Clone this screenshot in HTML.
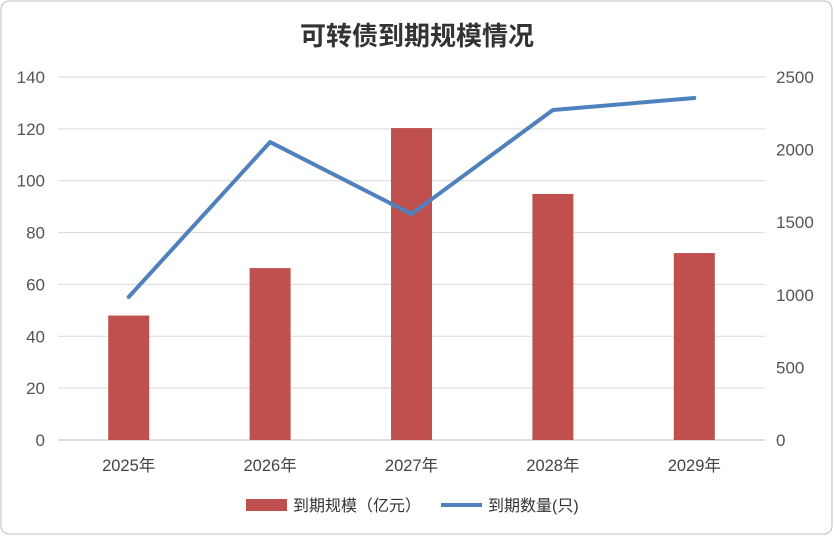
<!DOCTYPE html>
<html><head><meta charset="utf-8"><style>
body{margin:0;background:#fff;}
svg text{font-family:"Liberation Sans","Noto Sans CJK SC",sans-serif;}
</style></head><body>
<svg id="chart" width="834" height="536" xmlns="http://www.w3.org/2000/svg">
<rect x="1" y="1" width="831" height="533" rx="8" fill="#fff" stroke="#bdbdbd"/>
<text x="417" y="45" text-anchor="middle" font-size="26" font-weight="bold" fill="#333">可转债到期规模情况</text>
<g id="grid"></g><g id="bars"></g><g id="line"></g><g id="labels"></g>
<g>
<rect x="246" y="499" width="41" height="12" fill="#c0504d"/>
<text x="293" y="511" font-size="16" fill="#333">到期规模（亿元）</text>
<line x1="441" y1="505" x2="482" y2="505" stroke="#4f81bd" stroke-width="4"/>
<text x="488" y="511" font-size="16" fill="#333">到期数量(只)</text>
</g>
</svg>
<script>
const categories=["2025年","2026年","2027年","2028年","2029年"];
const scaleValues=[48,66.3,120.3,94.9,72.1];
const countValues=[985,2052,1556,2273,2355];
const leftTicks=[0,20,40,60,80,100,120,140];
const rightTicks=[0,500,1000,1500,2000,2500];
const NS="http://www.w3.org/2000/svg";
const x0=58,x1=765,y0=440,yTop=77;
const yL=v=>y0-(v/140)*(y0-yTop);
const yR=v=>y0-(v/2500)*(y0-yTop);
const band=(x1-x0)/categories.length;
const xC=i=>x0+band*(i+0.5);
function mk(t,a,p){const e=document.createElementNS(NS,t);for(const k in a)e.setAttribute(k,a[k]);p.appendChild(e);return e;}
const grid=document.getElementById('grid'),bars=document.getElementById('bars'),line=document.getElementById('line'),labels=document.getElementById('labels');
leftTicks.forEach(v=>{
 const l=mk('line',{x1:x0,x2:x1,y1:yL(v),y2:yL(v),stroke:v===0?'#bfbfbf':'#d9d9d9','stroke-width':1},grid);
 
 
 const t=mk('text',{x:45,y:yL(v)+6,'text-anchor':'end','font-size':17,fill:'#555'},labels);
 t.textContent=v;
 
 
});
rightTicks.forEach(v=>{
 const t=mk('text',{x:776,y:yR(v)+6,'font-size':17,fill:'#555'},labels);
 t.textContent=v;
 
 
});
categories.forEach((c,i)=>{
 const r=mk('rect',{x:xC(i)-20.5,y:yL(scaleValues[i]),width:41,height:y0-yL(scaleValues[i]),fill:'#c0504d'},bars);
 
 
 const t=mk('text',{x:xC(i),y:471,'text-anchor':'middle','font-size':16.5,fill:'#444'},labels);
 t.textContent=c;
 
 
});
const pts=countValues.map((v,i)=>xC(i)+','+yR(v)).join(' ');
const pl=mk('polyline',{points:pts,fill:'none',stroke:'#4f81bd','stroke-width':4,'stroke-linejoin':'round','stroke-linecap':'round'},line);


</script>
</body></html>
